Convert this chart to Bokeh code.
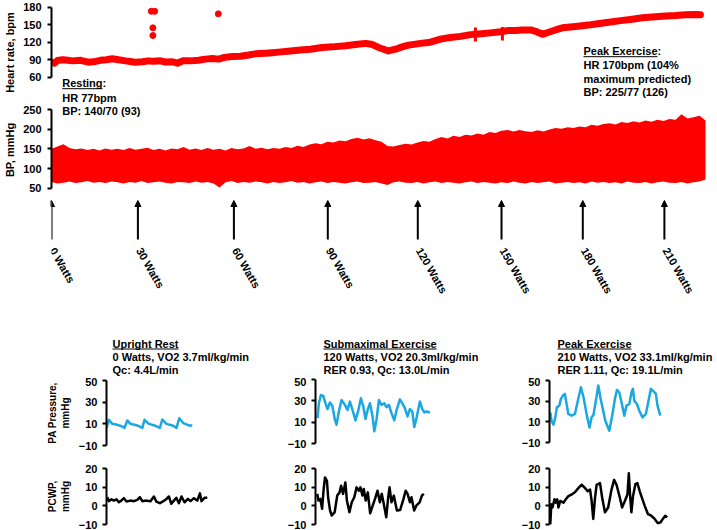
from bokeh.plotting import figure
from bokeh.layouts import column, row
from bokeh.models import Range1d, FixedTicker, Arrow, NormalHead, Label, ColumnDataSource
from bokeh.embed import file_html
from bokeh.resources import INLINE
from bokeh.core.properties import value

# ---------------- data ----------------
# time in minutes from the start of exercise
hr_time = [0.00, 0.10, 0.20, 0.37, 0.47, 0.70, 0.97, 1.23, 1.47, 1.63, 1.83, 2.03, 2.23, 2.47,
           2.63, 2.80, 3.03, 3.23, 3.37, 3.63, 3.80, 4.03, 4.20, 4.37, 4.63, 4.90, 5.13, 5.37,
           5.57, 5.77, 6.03, 6.30, 6.57, 6.80, 7.13, 7.37, 7.57, 7.97, 8.30, 8.63, 8.90, 9.03,
           9.37, 9.80, 10.13, 10.47, 10.70, 10.90, 11.07, 11.23, 11.47, 11.63, 11.90, 12.30,
           12.63, 13.00, 13.30, 13.63, 13.97, 14.23, 14.63, 14.97, 15.23, 15.47, 15.70, 15.97,
           16.17, 16.37, 16.57, 16.80, 17.03, 17.47, 17.97, 18.57, 18.97, 19.30, 19.70, 20.13,
           20.47, 20.80, 21.13, 21.47, 21.63]
hr_bpm = [86, 84, 88.6, 90, 89.5, 88, 89, 85.7, 87, 89, 90, 91.5, 90, 88,
          87, 85.5, 86.5, 88, 87.5, 88, 86, 86.5, 84, 88, 88, 89, 91, 92,
          91, 94, 95.5, 96, 98, 100, 101, 102, 103, 105, 106.5, 108, 110, 111,
          112, 114, 116, 118, 116, 111, 108, 105, 108, 111, 115, 118,
          120, 125.7, 128, 130, 133, 134, 136, 138, 140, 140, 141, 141,
          138, 133.5, 137, 141, 144.6, 147, 150, 154.3, 157, 159, 161.8, 163.5,
          165, 165.8, 167, 167.5, 167]
hr_outlier_time = [3.33, 3.44, 3.38, 3.38, 5.56]
hr_outlier_bpm = [173, 173, 144.6, 131.5, 168.6]
hr_spike_time = [14.13, 15.03]
hr_spike_low = [121, 123]
hr_spike_high = [145, 146]

bp_step_min = 0.2
bp_systolic_env = [150, 156, 162, 152, 149, 151, 147, 150, 146, 151,
                   148, 150, 147, 152, 148, 150, 153, 147, 150, 146,
                   151, 149, 155, 148, 151, 147, 152, 148, 150, 146,
                   152, 149, 151, 157, 150, 153, 149, 152, 150, 155,
                   152, 158, 155, 161, 164, 162, 168, 166, 171, 169,
                   175, 178, 174, 177, 172, 168, 157, 156, 160, 163,
                   161, 166, 170, 168, 175, 180, 176, 183, 180, 186,
                   184, 189, 186, 193, 190, 196, 198, 194, 198, 195,
                   193, 197, 194, 199, 203, 201, 205, 203, 207, 205,
                   211, 209, 213, 215, 212, 218, 216, 220, 217, 222,
                   219, 224, 221, 226, 224, 238, 227, 230, 234, 222]
bp_diastolic_env = [66, 62, 64, 67, 63, 65, 68, 64, 66, 63,
                    67, 65, 62, 66, 64, 68, 63, 65, 67, 64,
                    62, 66, 65, 63, 67, 64, 66, 62, 52, 65,
                    68, 63, 66, 64, 67, 65, 62, 66, 63, 65,
                    68, 64, 66, 62, 65, 67, 63, 66, 64, 62,
                    65, 67, 63, 64, 66, 62, 58, 65, 67, 64,
                    63, 66, 62, 65, 67, 63, 66, 64, 62, 65,
                    67, 63, 66, 64, 62, 65, 63, 67, 64, 62,
                    66, 63, 65, 67, 62, 64, 66, 63, 65, 62,
                    67, 64, 66, 63, 65, 62, 67, 64, 63, 66,
                    62, 65, 67, 64, 63, 66, 62, 65, 67, 72]
bp_time = [i * bp_step_min for i in range(len(bp_systolic_env))]

stage_time = [0, 2.88, 6.08, 9.21, 12.21, 15.0, 17.71, 20.43]
stage_watts = [0, 30, 60, 90, 120, 150, 180, 210]

hr_ticks = [60, 90, 120, 150, 180]
bp_ticks = [50, 100, 150, 200, 250]
pa_ticks = [-10, 10, 30, 50]
pcwp_ticks = [-10, 0, 10, 20]

# waveforms, time in seconds
rest_pa_t = [0, 0.12, 0.29, 0.54, 0.79, 0.9, 1.04, 1.2, 1.54, 1.79, 1.9, 2.12, 2.45, 2.67,
             2.79, 3.0, 3.34, 3.5, 3.64, 3.84, 4.12, 4.29]
rest_pa = [6.3, 13.7, 10, 9.1, 7.5, 6.3, 13.1, 10, 8.5, 6.3, 13.7, 10, 8.2, 6.3,
           14, 10, 8.2, 6.3, 15.2, 10.6, 8.5, 8.5]
rest_pcwp_t = [0.04, 0.12, 0.25, 0.37, 0.5, 0.62, 0.74, 0.87, 1.0, 1.2, 1.37, 1.54, 1.67,
               1.79, 1.95, 2.2, 2.37, 2.49, 2.67, 2.84, 3.0, 3.12, 3.24, 3.37, 3.49, 3.62,
               3.75, 3.9, 4.07, 4.2, 4.37, 4.54, 4.67, 4.75, 4.9, 5.04]
rest_pcwp = [4.6, 2.5, 3.5, 2.8, 3.5, 1.9, 2.8, 4.1, 2.3, 2.8, 2.5, 3.2, 4.6,
             2.5, 2.8, 2.5, 5.0, 2.3, 1.4, 2.5, 3.7, 5.0, 1.1, 2.8, 4.3, 1.4,
             5.0, 1.9, 3.7, 2.5, 4.1, 2.8, 6.7, 2.5, 4.3, 4.3]

sub_pa_t = [0.1, 0.17, 0.27, 0.39, 0.5, 0.6, 0.72, 0.84, 0.97, 1.05, 1.17, 1.3, 1.47, 1.6,
            1.72, 1.85, 2.0, 2.14, 2.27, 2.39, 2.5, 2.6, 2.72, 2.84, 2.94, 3.05, 3.17, 3.3,
            3.44, 3.55, 3.67, 3.8, 3.94, 4.05, 4.22, 4.34, 4.47, 4.6, 4.72, 4.84, 4.94,
            5.05, 5.22, 5.34, 5.44, 5.55, 5.72]
sub_pa = [13.8, 27.7, 35.4, 34.5, 27.7, 22.2, 28.4, 25.3, 12.3, 7.6, 20, 30.8, 26.2, 21.5,
          29.3, 21.5, 11.7, 21, 32.4, 24.7, 12.9, 21, 27.7, 16.9, 1.5, 12.3, 30.8, 26.2,
          27.7, 24, 26.2, 18.5, 11.7, 21, 31.4, 27.7, 23.1, 15.4, 22.2, 20, 5.5,
          13.8, 29.3, 22.2, 19.1, 20, 19.1]
sub_pcwp_t = [0.09, 0.15, 0.25, 0.34, 0.42, 0.49, 0.59, 0.65, 0.75, 0.84, 0.99, 1.12, 1.24,
              1.32, 1.42, 1.54, 1.62, 1.75, 1.87, 2.0, 2.12, 2.24, 2.32, 2.42, 2.49, 2.59,
              2.7, 2.82, 2.95, 3.07, 3.2, 3.32, 3.42, 3.54, 3.65, 3.75, 3.82, 3.92, 4.04,
              4.2, 4.37, 4.54, 4.65, 4.75, 4.87, 4.95, 5.09, 5.2, 5.37, 5.49, 5.59]
sub_pcwp = [6.4, 2.8, 3.7, -1.6, 9.0, 15.2, 13.4, 4.6, -2.5, -5.2, -3.4, 5.5, 7.2,
            10.8, 6.4, 12.5, 2.8, -3.4, 1.9, 4.6, 9.9, 8.1, 9.9, 5.5, 9.0, 2.8,
            7.2, -4.0, 0.1, 3.7, 8.1, 1.9, 6.4, 0.1, -6.1, 4.6, 9.9, 1.9, 5.5,
            -2.5, -2.2, 3.7, 8.1, 6.4, 1.9, 4.6, -2.5, 0.1, 1.9, 5.5, 6.4]

peak_pa_t = [0.04, 0.1, 0.2, 0.29, 0.37, 0.49, 0.57, 0.67, 0.77, 0.84, 0.94, 1.1, 1.27, 1.4,
             1.57, 1.7, 1.87, 2.0, 2.1, 2.2, 2.32, 2.44, 2.54, 2.65, 2.79, 2.99, 3.15, 3.27,
             3.37, 3.49, 3.6, 3.74, 3.85, 3.99, 4.1, 4.17, 4.24, 4.37, 4.49, 4.65, 4.82,
             4.95, 5.07, 5.2, 5.32, 5.4, 5.54]
peak_pa = [19.2, 11.1, 7.2, 14.3, 24.0, 25.7, 32.2, 35.4, 37.0, 28.9, 17.6, 16.0, 17.6, 28.9,
           43.5, 33.8, 16.0, 4.6, 14.3, 16.9, 30.5, 45.1, 33.8, 24.0, 11.1, 1.4, 17.6, 32.2,
           40.9, 38.6, 28.9, 16.0, 25.7, 27.3, 38.6, 41.9, 30.5, 27.3, 20.8, 14.3, 17.6,
           30.5, 41.9, 39.6, 37.0, 25.7, 16.0]
peak_pcwp_t = [0.04, 0.09, 0.15, 0.25, 0.32, 0.39, 0.45, 0.54, 0.7, 0.82, 0.95, 1.12, 1.29,
               1.45, 1.62, 1.79, 1.92, 2.04, 2.12, 2.2, 2.29, 2.37, 2.45, 2.54, 2.65, 2.79,
               2.95, 3.12, 3.25, 3.37, 3.54, 3.65, 3.79, 3.92, 3.99, 4.05, 4.12, 4.2, 4.32,
               4.42, 4.54, 4.65, 4.79, 4.95, 5.12, 5.29, 5.45, 5.59, 5.7, 5.82, 5.92]
peak_pcwp = [-10, 0.8, -0.9, 3.5, 1.7, 3.5, -0.9, 2.6, 1.7, 3.5, 5.2, 6.1, 7.4,
             9.5, 11.3, 9.5, 7.8, 8.7, 2.6, -7.0, 4.3, 11.3, 11.6, 12.2, 4.3, -3.5,
             -0.9, 8.7, 13.9, 11.3, 4.3, -0.9, 2.6, 6.1, 17.4, 6.1, -3.5, 5.2, 11.6,
             12.2, 7.8, 4.3, 0, -4.4, -5.3, -7.0, -9.3, -8.8, -7.0, -5.3, -6.2]

# ---------------- styling helpers ----------------
FONT = "Liberation Sans"
FS = "11px"
RED = "#FF0000"
BLUE = "#1BA8E2"

BOLD_W = {' ': 278, 'R': 722, 'e': 556, 's': 556, 't': 333, 'i': 278, 'n': 611, 'g': 611,
          'P': 667, 'a': 556, 'k': 556, 'E': 667, 'x': 556, 'c': 556, 'U': 722, 'p': 611,
          'r': 389, 'h': 611, 'S': 667, 'u': 611, 'b': 611, 'm': 889, 'l': 278}


def text_px(s, size=11.0):
    return sum(BOLD_W.get(c, 556) for c in s) * size / 1000.0


def make_fig(width, height, x_range, y_range, left, top, bottom, right=0, yaxis=True):
    p = figure(width=width, height=height, x_range=x_range, y_range=y_range,
               output_backend="svg", toolbar_location=None,
               x_axis_location=None, y_axis_location=("left" if yaxis else None),
               min_border_left=left, min_border_right=right,
               min_border_top=top, min_border_bottom=bottom)
    p.outline_line_color = None
    p.grid.grid_line_color = None
    p.background_fill_color = "white"
    p.border_fill_color = "white"
    return p


def style_yaxis(p, ticks, bounds, label=None, label_size=FS, label_standoff=4, label_sd=6):
    ax = p.yaxis[0]
    ax.ticker = FixedTicker(ticks=ticks)
    ax.bounds = bounds
    ax.axis_line_width = 2
    ax.axis_line_color = "black"
    ax.major_tick_line_width = 2
    ax.major_tick_line_color = "black"
    ax.major_tick_out = 4
    ax.major_tick_in = 0
    ax.minor_tick_line_color = None
    ax.major_label_text_font = FONT
    ax.major_label_text_font_style = "bold"
    ax.major_label_text_font_size = FS
    ax.major_label_text_color = "black"
    ax.major_label_standoff = label_sd
    if label:
        ax.axis_label = label
        ax.axis_label_text_font = FONT
        ax.axis_label_text_font_style = "bold"
        ax.axis_label_text_font_size = label_size
        ax.axis_label_text_color = "black"
        ax.axis_label_standoff = label_standoff


def add_text(p, x, y, txt):
    p.add_layout(Label(x=x, y=y, text=txt, text_font=FONT, text_font_style="bold",
                       text_font_size=FS, text_color="black",
                       text_align="left", text_baseline="middle"))


def add_underline(p, x, y, word, x_per_px):
    p.line([x, x + text_px(word) * x_per_px], [y, y], line_color="black", line_width=1)


# ---------------- top panels (shared time axis) ----------------
PX_PER_MIN = 30.0
top_x = Range1d(0, 666 / PX_PER_MIN)
XPP = 1 / PX_PER_MIN
HR_PER_PX = 120 / 70.0
BP_PER_PX = 200 / 78.7
UL = 5.5  # underline offset below text centre, px

hr_top = 180 + 6.7 * HR_PER_PX
hr_fig = make_fig(717, 104, top_x, Range1d(hr_top - 104 * HR_PER_PX, hr_top), left=51, top=0, bottom=0)
style_yaxis(hr_fig, hr_ticks, (60, 180), "Heart rate, bpm")
hr_fig.line(hr_time, hr_bpm, line_color=RED, line_width=7, line_join="round", line_cap="round")
hr_fig.segment(x0=hr_spike_time, y0=hr_spike_low, x1=hr_spike_time, y1=hr_spike_high,
               line_color=RED, line_width=3)
hr_fig.scatter(hr_outlier_time, hr_outlier_bpm, size=6, fill_color=RED, line_color=RED)


def hr_at(py):
    return hr_top - py * HR_PER_PX


peak_x = (583 - 51) * XPP
add_text(hr_fig, peak_x, hr_at(50.7), "Peak Exercise:")
add_underline(hr_fig, peak_x, hr_at(50.7 + UL), "Peak Exercise", XPP)
add_text(hr_fig, peak_x, hr_at(64.0), "HR 170bpm (104%")
add_text(hr_fig, peak_x, hr_at(78.3), "maximum predicted)")
add_text(hr_fig, peak_x, hr_at(91.7), "BP: 225/77 (126)")
rest_x = (61.7 - 51) * XPP
add_text(hr_fig, rest_x, hr_at(82.7), "Resting:")
add_underline(hr_fig, rest_x, hr_at(82.7 + UL), "Resting", XPP)
add_text(hr_fig, rest_x, hr_at(97.3), "HR 77bpm")

bp_top = 250 + 5 * BP_PER_PX
bp_fig = make_fig(717, 91, top_x, Range1d(bp_top - 91 * BP_PER_PX, bp_top), left=51, top=0, bottom=0)
style_yaxis(bp_fig, bp_ticks, (50, 250), "BP, mmHg")
bp_fig.varea(x=bp_time, y1=bp_diastolic_env, y2=bp_systolic_env, fill_color=RED)
add_text(bp_fig, rest_x, bp_top - 6 * BP_PER_PX, "BP: 140/70 (93)")

# arrows + workload labels + lower-panel titles (y in px below 195)
ann = make_fig(717, 182, top_x, Range1d(182, 0), left=51, top=0, bottom=0, yaxis=False)
arrow_src = ColumnDataSource(dict(x=stage_time, y0=[44] * len(stage_time), y1=[5] * len(stage_time)))
ann.add_layout(Arrow(source=arrow_src, x_start="x", y_start="y0", x_end="x", y_end="y1",
                     line_width=2, line_color="black",
                     end=NormalHead(size=6, fill_color="black", line_color="black", line_width=1)))
ann.text(x=[t + 0.04 for t in stage_time], y=53, text=[f"{w} Watts" for w in stage_watts],
         angle=-60, angle_units="deg", text_font=value(FONT), text_font_style="bold",
         text_font_size=FS, text_color="black", text_align="left", text_baseline="middle")

titles = [
    ((112 - 51) * XPP, ["Upright Rest", "0 Watts, VO2 3.7ml/kg/min", "Qc: 4.4L/min"]),
    ((323 - 51) * XPP, ["Submaximal Exercise", "120 Watts, VO2 20.3ml/kg/min", "RER 0.93, Qc: 13.0L/min"]),
    ((557 - 51) * XPP, ["Peak Exercise", "210 Watts, VO2 33.1ml/kg/min", "RER 1.11, Qc: 19.1L/min"]),
]
for tx, lines in titles:
    for ly, txt in zip([148.0, 161.8, 174.8], lines):
        add_text(ann, tx, ly, txt)
    add_underline(ann, tx, 148.0 + UL, lines[0], XPP)

# ---------------- lower waveform panels ----------------
PX_PER_S = 20.0


def wave_col(width, pa_left, pw_left, pa_t, pa_v, pw_t, pw_v, labels, pa_top=3, pa_bottom=6):
    pa = make_fig(width, 74, Range1d(0, (width - pa_left) / PX_PER_S), Range1d(-10, 50),
                  left=pa_left, top=pa_top, bottom=pa_bottom)
    style_yaxis(pa, pa_ticks, (-10, 50), "PA Pressure,\nmmHg" if labels else None,
                label_size="10px", label_standoff=5, label_sd=5)
    pa.line(pa_t, pa_v, line_color=BLUE, line_width=2.5, line_join="round")
    pw = make_fig(width, 79, Range1d(0, (width - pw_left) / PX_PER_S), Range1d(-10, 20),
                  left=pw_left, top=17, bottom=6)
    style_yaxis(pw, pcwp_ticks, (-10, 20), "PCWP,\nmmHg" if labels else None,
                label_size="10px", label_standoff=5, label_sd=5)
    pw.line(pw_t, pw_v, line_color="black", line_width=2.5, line_join="round")
    return column(pa, pw)


col1 = wave_col(216, 106, 106, rest_pa_t, rest_pa, rest_pcwp_t, rest_pcwp, True)
col2 = wave_col(225, 99, 95, sub_pa_t, sub_pa, sub_pcwp_t, sub_pcwp, False, pa_top=2, pa_bottom=8)
col3 = wave_col(276, 108, 107, peak_pa_t, peak_pa, peak_pcwp_t, peak_pcwp, False, pa_bottom=9)

layout = column(hr_fig, bp_fig, ann, row(col1, col2, col3))

open("out.html", "w").write(file_html(layout, INLINE))
